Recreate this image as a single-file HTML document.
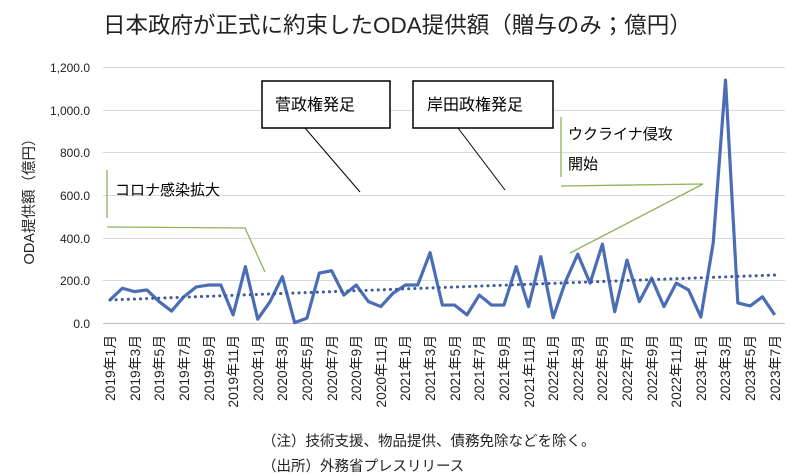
<!DOCTYPE html>
<html><head><meta charset="utf-8"><style>
body{margin:0;background:#fff;}
svg{display:block;font-family:"Liberation Sans","Noto Sans CJK JP",sans-serif;}
</style></head><body>
<svg width="800" height="476" viewBox="0 0 800 476">
<rect width="800" height="476" fill="#fff"/>
<text x="103" y="33" font-size="22.5" fill="#222">日本政府が正式に約束したODA提供額（贈与のみ；億円）</text>
<g stroke="#d9d9d9" stroke-width="1">
<line x1="103" x2="785" y1="67.5" y2="67.5"/>
<line x1="103" x2="785" y1="110.5" y2="110.5"/>
<line x1="103" x2="785" y1="152.5" y2="152.5"/>
<line x1="103" x2="785" y1="195.5" y2="195.5"/>
<line x1="103" x2="785" y1="238.5" y2="238.5"/>
<line x1="103" x2="785" y1="280.5" y2="280.5"/>
<line x1="103" x2="785" y1="323.5" y2="323.5" stroke="#bfbfbf"/>
</g>
<g font-size="12" fill="#222" text-anchor="end">
<text x="90" y="72">1,200.0</text><text x="90" y="115">1,000.0</text><text x="90" y="157">800.0</text><text x="90" y="200">600.0</text><text x="90" y="243">400.0</text><text x="90" y="285">200.0</text><text x="90" y="328">0.0</text>
</g>
<text transform="translate(34,198) rotate(-90)" font-size="14.5" text-anchor="middle" fill="#222">ODA提供額（億円）</text>
<rect x="262" y="81" width="128" height="47" fill="#fff" stroke="#000" stroke-width="1.5"/>
<text x="275" y="110" font-size="16">菅政権発足</text>
<rect x="413" y="81" width="140" height="47" fill="#fff" stroke="#000" stroke-width="1.5"/>
<text x="427" y="110" font-size="16">岸田政権発足</text>
<line x1="305" y1="128" x2="360" y2="192" stroke="#000" stroke-width="1"/>
<line x1="458" y1="128" x2="505" y2="190" stroke="#000" stroke-width="1"/>
<g stroke="#8fb35a" stroke-width="1.3" fill="none">
<line x1="107" y1="170" x2="107" y2="218"/>
<polyline points="107,227 245,228 265,272"/>
<line x1="561" y1="117" x2="561" y2="177"/>
<polyline points="561,186 703,184 570,253"/>
</g>
<text x="115" y="195" font-size="15">コロナ感染拡大</text>
<text x="568" y="139" font-size="15">ウクライナ侵攻</text>
<text x="568" y="169" font-size="15">開始</text>
<g transform="translate(110,323) scale(12.31,-0.2133)">
<polyline vector-effect="non-scaling-stroke" fill="none" stroke="#4a6db5" stroke-width="3.2" stroke-linejoin="round" points="0,108 1,163 2,147 3,155 4,100 5,56 6,123 7,169 8,178 9,178 10,38 11,264 12,18 13,100 14,217 15,2 16,23 17,234 18,245 19,131 20,178 21,100 22,77 23,140 24,178 25,178 26,330 27,84 28,84 29,38 30,131 31,84 32,84 33,264 34,77 35,311 36,25 37,194 38,323 39,187 40,370 41,53 42,295 43,100 44,210 45,77 46,187 47,155 48,28 49,375 50,1139 51,94 52,80 53,123 54,38"/>
<line vector-effect="non-scaling-stroke" x1="0" y1="108" x2="54" y2="225" stroke="#3d5a9e" stroke-width="3" stroke-dasharray="0.1 6" stroke-linecap="round"/>
</g>
<g font-size="13.8" fill="#222" text-anchor="end">
<text transform="translate(115,335) rotate(-90)">2019年1月</text>
<text transform="translate(140,335) rotate(-90)">2019年3月</text>
<text transform="translate(164,335) rotate(-90)">2019年5月</text>
<text transform="translate(189,335) rotate(-90)">2019年7月</text>
<text transform="translate(214,335) rotate(-90)">2019年9月</text>
<text transform="translate(238,335) rotate(-90)">2019年11月</text>
<text transform="translate(263,335) rotate(-90)">2020年1月</text>
<text transform="translate(287,335) rotate(-90)">2020年3月</text>
<text transform="translate(312,335) rotate(-90)">2020年5月</text>
<text transform="translate(337,335) rotate(-90)">2020年7月</text>
<text transform="translate(361,335) rotate(-90)">2020年9月</text>
<text transform="translate(386,335) rotate(-90)">2020年11月</text>
<text transform="translate(410,335) rotate(-90)">2021年1月</text>
<text transform="translate(435,335) rotate(-90)">2021年3月</text>
<text transform="translate(460,335) rotate(-90)">2021年5月</text>
<text transform="translate(484,335) rotate(-90)">2021年7月</text>
<text transform="translate(509,335) rotate(-90)">2021年9月</text>
<text transform="translate(534,335) rotate(-90)">2021年11月</text>
<text transform="translate(558,335) rotate(-90)">2022年1月</text>
<text transform="translate(583,335) rotate(-90)">2022年3月</text>
<text transform="translate(607,335) rotate(-90)">2022年5月</text>
<text transform="translate(632,335) rotate(-90)">2022年7月</text>
<text transform="translate(657,335) rotate(-90)">2022年9月</text>
<text transform="translate(681,335) rotate(-90)">2022年11月</text>
<text transform="translate(706,335) rotate(-90)">2023年1月</text>
<text transform="translate(730,335) rotate(-90)">2023年3月</text>
<text transform="translate(755,335) rotate(-90)">2023年5月</text>
<text transform="translate(780,335) rotate(-90)">2023年7月</text>
</g>
<text x="262" y="446" font-size="14.5" fill="#222">（注）技術支援、物品提供、債務免除などを除く。</text>
<text x="262" y="471" font-size="14.5" fill="#222">（出所）外務省プレスリリース</text>
</svg>
</body></html>
